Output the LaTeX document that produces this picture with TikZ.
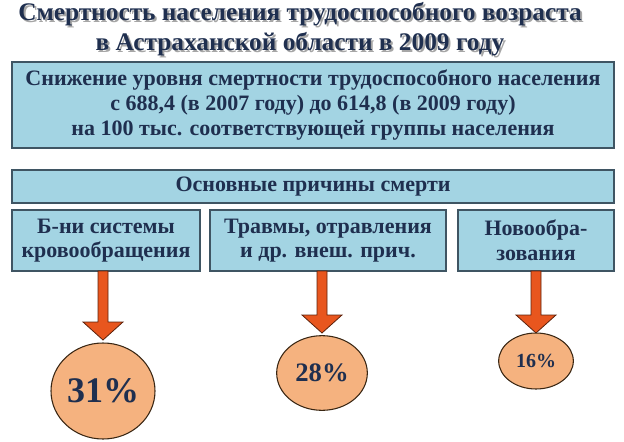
\documentclass[tikz,border=0pt]{standalone}
\usepackage{fontspec}
\setmainfont{Liberation Serif}
\usetikzlibrary{arrows.meta}
\definecolor{inkCol}{HTML}{1F2F4F}
\definecolor{boxCol}{HTML}{A3D4E3}
\definecolor{rimCol}{HTML}{3F5563}
\definecolor{ballCol}{HTML}{F5B27F}
\definecolor{arrCol}{HTML}{E8561E}
\begin{document}
\begin{tikzpicture}[x=0.75pt,y=-0.75pt,
  txt/.style={text=inkCol,font=\bfseries\fontsize{16.5pt}{18.5pt}\selectfont,align=center},
  cause/.style={txt,draw=rimCol,fill=boxCol,line width=0.9pt,inner sep=0pt},
  ball/.style={draw=black!70!brown,fill=ballCol,line width=0.8pt},
  down/.style={draw=black!60!arrCol,fill=arrCol,line width=0.6pt}]
%% Frame
\useasboundingbox (0,0) rectangle (624,442);
%% Title with shadow
\node[txt,text=black!35,font=\bfseries\fontsize{19pt}{22.5pt}\selectfont] at (302,31)
  {Смертность населения трудоспособного возраста\\в Астраханской области в 2009 году};
\node[txt,font=\bfseries\fontsize{19pt}{22.5pt}\selectfont] (title) at (300,29)
  {Смертность населения трудоспособного возраста\\в Астраханской области в 2009 году};
%% Boxes
\node[cause,minimum width=451.5pt,minimum height=64.5pt] (drop) at (313,105)
  {Снижение уровня смертности трудоспособного населения\\с 688,4 (в 2007 году) до 614,8 (в 2009 году)\\на 100 тыс. соответствующей группы населения};
\node[cause,minimum width=451.5pt,minimum height=24.75pt] (main) at (313,186.5)
  {Основные причины смерти};
\node[cause,minimum width=141pt,minimum height=45.75pt] (blood) at (106,240.5)
  {Б-ни системы\\кровообращения};
\node[cause,minimum width=177pt,minimum height=45.75pt] (injury) at (328,240.5)
  {Травмы, отравления\\и др. внеш. прич.};
\node[cause,minimum width=117pt,minimum height=45.75pt] (tumor) at (536,240.5)
  {Новообра-\\зования};
%% Arrows
\foreach \x/\y in {103/340,322/333,536/333}{
\path[down] (\x-5,271) -- (\x+5,271) -- (\x+5,\y-18) -- (\x+20,\y-18) -- (\x,\y)
  -- (\x-20,\y-18) -- (\x-5,\y-18) -- cycle;
}
%% Shares
\draw[ball] (103,391) ellipse [x radius=39pt,y radius=36pt];
\node[txt,font=\bfseries\fontsize{27pt}{30pt}\selectfont] (p1) at (103,391) {31\%};
\draw[ball] (322,373) ellipse [x radius=34pt,y radius=28pt];
\node[txt,font=\bfseries\fontsize{20pt}{24pt}\selectfont] (p2) at (322,373) {28\%};
\draw[ball] (536,361) ellipse [x radius=28pt,y radius=21pt];
\node[txt,font=\bfseries\fontsize{15pt}{18pt}\selectfont] (p3) at (536,361) {16\%};
\end{tikzpicture}
\end{document}
